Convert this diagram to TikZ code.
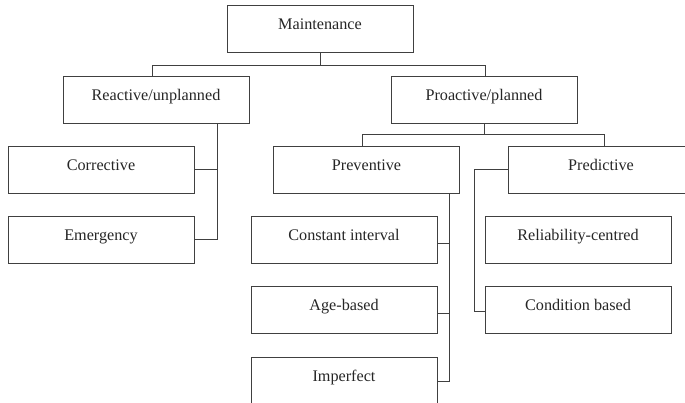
\documentclass[tikz,border=0pt]{standalone}
\usepackage{fontspec}
\setmainfont{Liberation Serif}
\begin{document}
\begin{tikzpicture}[x=1pt,y=-1pt,
  box/.style={draw=black!75, line width=0.9pt, rectangle, inner sep=0pt,
    minimum width=186pt, minimum height=47pt, text height=24pt, text depth=23pt,
    text=black!85, font=\fontsize{16.2}{19}\selectfont},
  link/.style={draw=black!75, line width=0.9pt}]
\useasboundingbox (0,0) rectangle (685,402);
\clip (0,0) rectangle (685,402);

% level 0 and 1
\node[box] (main) at (320,28.5) {Maintenance};
\node[box] (reactive) at (156,99.5) {Reactive/unplanned};
\node[box] (proactive) at (484,99.5) {Proactive/planned};

% reactive branch
\node[box] (corrective) at (101,169.5) {Corrective};
\node[box] (emergency) at (101,239.5) {Emergency};

% proactive branch
\node[box] (preventive) at (366.5,169.5) {Preventive};
\node[box] (predictive) at (601,169.5) {Predictive};

% preventive leaves
\node[box] (constant) at (344,240) {Constant interval};
\node[box] (agebased) at (344,310) {Age-based};
\node[box] (imperfect) at (344,380.5) {Imperfect};

% predictive leaves
\node[box] (reliability) at (578,240) {Reliability-centred};
\node[box] (condition) at (578,310) {Condition based};

% connectors
\draw[link] (main.south) -- ++(0,13) coordinate (mj);
\draw[link] ([xshift=-4pt]reactive.north) |- (mj) -| ([xshift=1pt]proactive.north);

\coordinate (rs) at ([xshift=61pt]reactive.south);
\draw[link] (rs) |- (emergency.east);
\draw[link] (corrective.east) -- (corrective.east -| rs);

\draw[link] (proactive.south) -- ++(0,11) coordinate (pj);
\draw[link] ([xshift=-4.5pt]preventive.north) |- (pj) -| ([xshift=3pt]predictive.north);

\coordinate (vs) at ([xshift=82.5pt]preventive.south);
\draw[link] (vs) |- ([yshift=-0.5pt]imperfect.east);
\draw[link] ([yshift=-3pt]constant.east) -- ([yshift=-3pt]constant.east -| vs);
\draw[link] ([yshift=-3pt]agebased.east) -- ([yshift=-3pt]agebased.east -| vs);

\draw[link] (predictive.west) -- ++(-33,0) |- ([yshift=-1pt]condition.west);
\end{tikzpicture}
\end{document}
